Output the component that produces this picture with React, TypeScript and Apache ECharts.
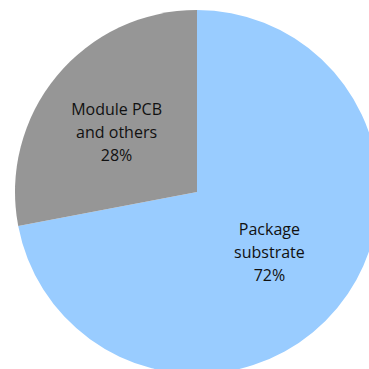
import React, { useEffect, useRef } from "react";
import * as echarts from "echarts";

const categories = ["Package\nsubstrate", "Module PCB\nand others"];
const values = [72, 28];
const colors = ["#99CCFF", "#969696"];

export default function App() {
  const ref = useRef<HTMLDivElement>(null);
  useEffect(() => {
    document.body.style.margin = "0";
    const chart = echarts.init(ref.current!, undefined, { renderer: "svg" });
    chart.setOption({
      animation: false,
      series: [
        {
          type: "pie",
          center: [197, 192],
          radius: 182,
          startAngle: 90,
          clockwise: true,
          label: {
            position: "inside",
            formatter: (p: any) => `${p.name}\n${p.value}%`,
            fontFamily: "Open Sans",
            fontSize: 16,
            lineHeight: 23,
            color: "#111111",
          },
          labelLine: { show: false },
          itemStyle: { borderWidth: 0 },
          emphasis: { disabled: true },
          data: categories.map((c, i) => ({
            name: c,
            value: values[i],
            itemStyle: { color: colors[i] },
            label: i === 1 ? { padding: [12, 16, 0, 0] } : { padding: [0, 0, 2, 0] },
          })),
        },
      ],
    });
    return () => chart.dispose();
  }, []);
  return <div ref={ref} style={{ width: 369, height: 369 }} />;
}
